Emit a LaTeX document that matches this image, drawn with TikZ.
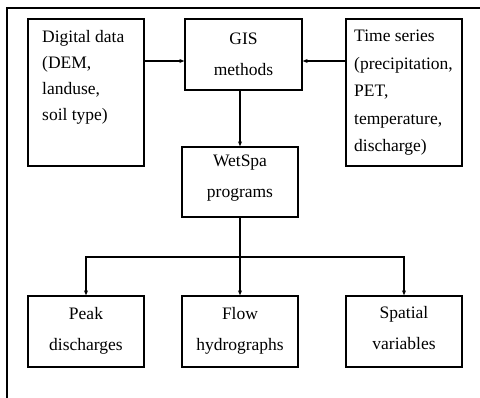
\documentclass[tikz,border=0pt]{standalone}
\usepackage{fontspec}
\setmainfont{Liberation Serif}
\usetikzlibrary{arrows.meta}
\begin{document}
\begin{tikzpicture}[x=1pt,y=-1pt,
  box/.style={draw,line width=1.3pt,inner sep=0pt,minimum width=116pt,minimum height=71pt},
  tallbox/.style={box,minimum height=147pt},
  txt/.style={inner sep=0pt,font=\fontsize{17.5}{31}\selectfont},
  arr/.style={line width=1.2pt,-{Stealth[length=5pt,width=4pt]}},
  ln/.style={line width=1.2pt}]
\useasboundingbox (0,0) rectangle (480,398);
\draw[line width=2pt] (7,398) -- (7,8) -- (480,8);
% boxes
\node[tallbox] (dd) at (86,92.5) {};
\node[box,minimum width=117pt] (gis) at (243.5,54.5) {};
\node[tallbox] (ts) at (404,92.5) {};
\node[box,minimum height=70pt] (wet) at (240,182) {};
\node[box] (peak) at (86,331.5) {};
\node[box] (flow) at (240,331.5) {};
\node[box] (spat) at (404,331.5) {};
% texts
\node[txt,anchor=west,align=left,font=\fontsize{17.5}{26}\selectfont] (ddt) at (42,77) {Digital data\\(DEM,\\landuse,\\soil type)};
\node[txt,align=center] (gist) at (243.5,54.5) {GIS\\methods};
\node[txt,anchor=west,align=left,font=\fontsize{17.5}{27.5}\selectfont] (tst) at (354,93) {Time series\\(precipitation,\\PET,\\temperature,\\discharge)};
\node[txt,align=center] (wett) at (240,178.5) {WetSpa\\programs};
\node[txt,align=center] (peakt) at (86,331) {Peak\\discharges};
\node[txt,align=center] (flowt) at (240,331) {Flow\\hydrographs};
\node[txt,align=center] (spatt) at (404,328.5) {Spatial\\variables};
% connectors
\coordinate (yl) at (0,61);
\coordinate (br) at (0,257);
\draw[arr] (dd.east |- yl) -- (gis.west |- yl);
\draw[arr] (ts.west |- yl) -- (gis.east |- yl);
\draw[arr] (wet.north |- gis.south) -- (wet.north);
\draw[ln] (wet.south) -- (wet.south |- br);
\draw[arr] (wet.south |- br) -| (peak.north);
\draw[arr] (wet.south |- br) -| (spat.north);
\draw[arr] (wet.south) -- (flow.north);
\end{tikzpicture}
\end{document}
